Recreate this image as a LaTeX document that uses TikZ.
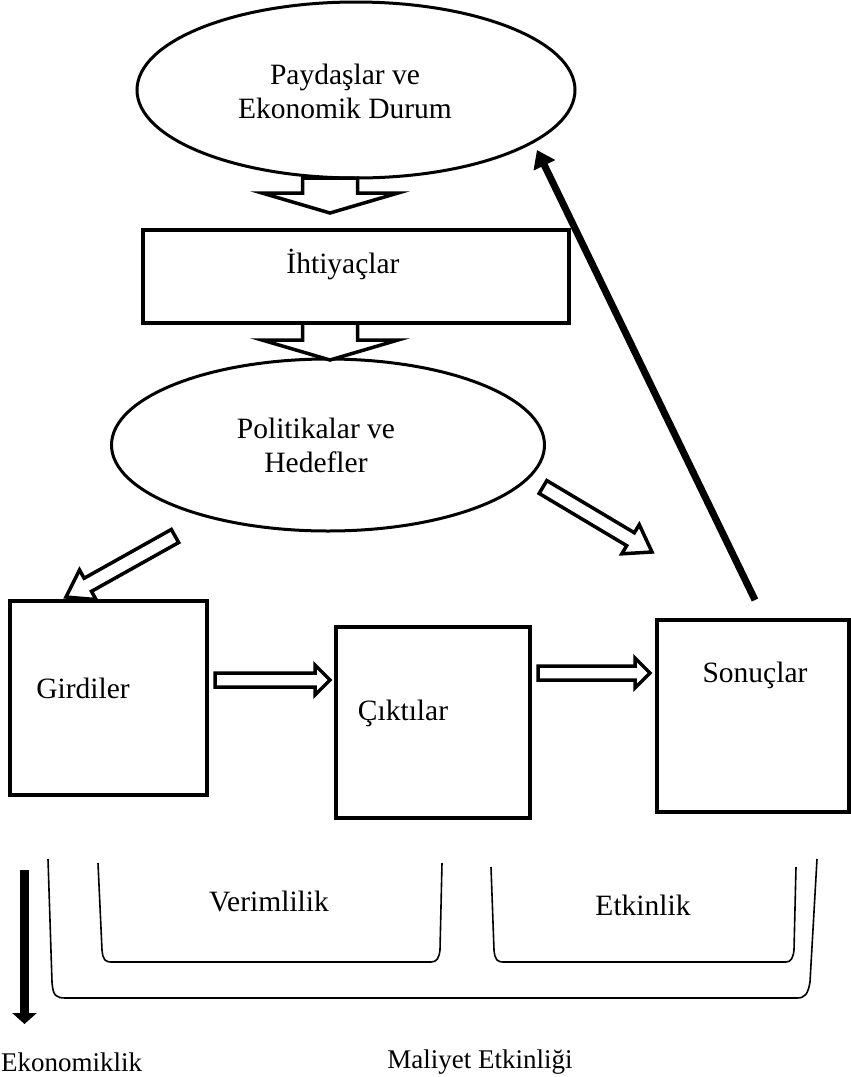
\documentclass[tikz,border=0pt]{standalone}
\usepackage{fontspec}
\setmainfont{Liberation Serif}
\usetikzlibrary{shapes.geometric, positioning, calc, arrows.meta}

\tikzset{
  ell/.style={draw, ellipse, line width=3pt, inner sep=0pt},
  box/.style={draw, rectangle, line width=4pt, inner sep=0pt},
  lbl/.style={font=\fontsize{29.5}{34}\selectfont, align=center, inner sep=0pt},
  sublbl/.style={font=\fontsize{27}{32}\selectfont, inner sep=0pt},
  hollow/.style={draw, fill=white, line width=3.5pt},
  brack/.style={draw, line width=1.6pt},
  solidarrow/.style={line width=#1, -{Triangle[length=17pt,width=23pt]}},
}

\newcommand{\hollowarrow}[5]{%
  \coordinate (ha-n) at ($(#2)!#5!(#1)$);
  \draw[hollow] ($(#1)!#3!90:(#2)$) -- ($(ha-n)!#3!90:(#2)$) -- ($(ha-n)!#4!90:(#2)$)
    -- (#2) -- ($(ha-n)!#4!-90:(#2)$) -- ($(ha-n)!#3!-90:(#2)$) -- ($(#1)!#3!-90:(#2)$) -- cycle;
}

\begin{document}
\begin{tikzpicture}[x=1pt, y=-1pt]
\useasboundingbox (0,0) rectangle (851,1077);

\node[ell, minimum width=438pt, minimum height=176pt] (stake) at (356,90) {};
\node[box, minimum width=426pt, minimum height=93pt] (needs) at (356,276.5) {};
\node[ell, minimum width=433pt, minimum height=172pt] (policy) at (328,445) {};
\node[box, minimum width=197pt, minimum height=194pt] (inputs) at (108.5,698) {};
\node[box, minimum width=194pt, minimum height=191pt] (outputs) at (433,722.5) {};
\node[box, minimum width=192pt, minimum height=192pt] (outcomes) at (753,716) {};

\node[lbl] (stake-t) at (345,91) {Paydaşlar ve\\Ekonomik Durum};
\node[lbl] (needs-t) at (343,265) {İhtiyaçlar};
\node[lbl] (policy-t) at (316,445) {Politikalar ve\\Hedefler};
\node[lbl] (inputs-t) at (83,688) {Girdiler};
\node[lbl] (outputs-t) at (403,713) {Çıktılar};
\node[lbl] (outcomes-t) at (755,675) {Sonuçlar};
\node[lbl] (eff-t) at (269,901) {Verimlilik};
\node[lbl] (effect-t) at (643,905) {Etkinlik};
\node[sublbl, anchor=west] (econ-t) at (1,1062) {Ekonomiklik};
\node[sublbl] (cost-t) at (480,1062) {Maliyet Etkinliği};

\coordinate (a1s) at (330,178);  \coordinate (a1e) at (330,213);
\coordinate (a2s) at (330,323);  \coordinate (a2e) at (330,360);
\coordinate (a3s) at (175,536);  \coordinate (a3e) at (66,597);
\coordinate (a4s) at (543,487);  \coordinate (a4e) at (652,552);
\coordinate (a5s) at (215,680);  \coordinate (a5e) at (330,680);
\coordinate (a6s) at (538,673);  \coordinate (a6e) at (650,673);
\coordinate (back-s) at (755,600); \coordinate (back-e) at (537,150);
\coordinate (econ-s) at (24.5,870); \coordinate (econ-e) at (24.5,1024);

\hollowarrow{a1s}{a1e}{27.5pt}{68pt}{20pt}
\hollowarrow{a2s}{a2e}{27.5pt}{68pt}{20pt}
\hollowarrow{a3s}{a3e}{7.5pt}{17pt}{25pt}
\hollowarrow{a4s}{a4e}{7.5pt}{17pt}{25pt}
\hollowarrow{a5s}{a5e}{7pt}{15pt}{15pt}
\hollowarrow{a6s}{a6e}{7pt}{15pt}{15pt}

\draw[solidarrow=7pt] (back-s) -- (back-e);
\draw[line width=9pt, -{Triangle[length=11pt,width=24pt]}] (econ-s) -- (econ-e);

\draw[brack] (48,859) -- (52,982) .. controls (53,996) and (56,998) .. (66,998)
  -- (797,998) .. controls (805,998) and (808,994) .. (810,982) -- (817,859);
\draw[brack] (98,863) -- (102,950) .. controls (103,960) and (105,962) .. (112,962)
  -- (431,962) .. controls (437,962) and (439,958) .. (440,950) -- (442,863);
\draw[brack] (491,867) -- (494,950) .. controls (495,960) and (497,962) .. (504,962)
  -- (786,962) .. controls (791,962) and (793,958) .. (794,950) -- (796,867);
\end{tikzpicture}
\end{document}
